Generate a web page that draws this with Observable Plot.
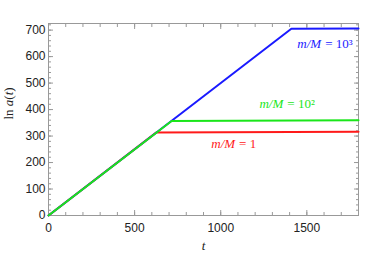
<!DOCTYPE html>
<html><head><meta charset="utf-8">
<script src="https://cdn.jsdelivr.net/npm/d3@7"></script>
<script src="https://cdn.jsdelivr.net/npm/@observablehq/plot@0.6"></script>
<style>body{margin:0;background:#fff}</style>
</head><body><div id="chart"></div>
<script>
const seriesNames = ["m/M = 1", "m/M = 10^2", "m/M = 10^3"];
const seriesColors = ["#ff1a1a", "#1a1aff", "#1ae61a"];
const redT = [0, 625, 1800];
const redV = [0, 313, 316];
const blueT = [0, 1410, 1800];
const blueV = [0, 705, 706];
const greenT = [0, 715, 1800];
const greenV = [0, 357, 360];
const xTicks = [0, 500, 1000, 1500];
const yTicks = [0, 100, 200, 300, 400, 500, 600, 700];
const xMinor = d3.range(0, 1801, 100);
const yMinor = d3.range(0, 721, 20);
const labelItalic = ["m/M", "m/M", "m/M"];
const labelRest = ["= 1", "= 10²", "= 10³"];
const labelT = [1095, 1375, 1595];
const labelV = [270, 421, 648];
const labelColors = ["#ff1a1a", "#1ae61a", "#1a1aff"];

const pts = (T, V) => T.map((t, i) => ({t, v: V[i]}));
const labels = labelItalic.map((a, i) => ({a, b: labelRest[i], t: labelT[i], v: labelV[i], c: labelColors[i]}));
const serif = "Liberation Serif, Times New Roman, serif";
const sans = "Liberation Sans, Arial, sans-serif";
const fmt = d => String(d);

const chart = Plot.plot({
  width: 382, height: 259,
  marginLeft: 48, marginRight: 24, marginTop: 23, marginBottom: 44,
  x: {domain: [0, 1800]},
  y: {domain: [0, 725]},
  style: {fontFamily: sans, color: "#222", background: "#fff"},
  marks: [
    Plot.axisX(xMinor, {anchor: "bottom", tickSize: -3, tickFormat: () => "", label: null, stroke: "#999"}),
    Plot.axisX(xMinor, {anchor: "top", tickSize: -3, tickFormat: () => "", label: null, stroke: "#999"}),
    Plot.axisY(yMinor, {anchor: "left", tickSize: -3, tickFormat: () => "", label: null, stroke: "#999"}),
    Plot.axisY(yMinor, {anchor: "right", tickSize: -3, tickFormat: () => "", label: null, stroke: "#999"}),
    Plot.axisX(xTicks, {anchor: "bottom", tickSize: -5, tickPadding: 13, tickFormat: fmt, label: null, stroke: "#999", fontSize: 12, fill: "#222"}),
    Plot.axisX(xTicks, {anchor: "top", tickSize: -5, tickFormat: () => "", label: null, stroke: "#999"}),
    Plot.axisY(yTicks, {anchor: "left", tickSize: -5, tickPadding: 8, tickFormat: fmt, label: null, stroke: "#999", fontSize: 12, fill: "#222"}),
    Plot.axisY(yTicks, {anchor: "right", tickSize: -5, tickFormat: () => "", label: null, stroke: "#999"}),
    Plot.frame({stroke: "#999"}),
    Plot.line(pts(redT, redV), {x: "t", y: "v", stroke: seriesColors[0], strokeWidth: 2}),
    Plot.line(pts(blueT, blueV), {x: "t", y: "v", stroke: seriesColors[1], strokeWidth: 2}),
    Plot.line(pts(greenT, greenV), {x: "t", y: "v", stroke: seriesColors[2], strokeWidth: 2}),
    Plot.text(labels, {x: "t", y: "v", text: "a", fill: "c", textAnchor: "end", dx: -2, fontFamily: serif, fontStyle: "italic", fontSize: 13}),
    Plot.text(labels, {x: "t", y: "v", text: "b", fill: "c", textAnchor: "start", dx: 2, fontFamily: serif, fontSize: 13}),
    Plot.text(["t"], {frameAnchor: "bottom", dy: 34, fontFamily: serif, fontStyle: "italic", fontSize: 13, fill: "#222"}),
    Plot.text(["YLABEL"], {frameAnchor: "left", dx: -40, rotate: -90, fontFamily: serif, fontSize: 13, fill: "#222"})
  ]
});
d3.select(chart).selectAll("text").each(function() {
  if (this.textContent === "YLABEL") {
    const s = d3.select(this);
    s.text(null);
    s.append("tspan").text("ln ");
    s.append("tspan").attr("font-style", "italic").text("a");
    s.append("tspan").text("(");
    s.append("tspan").attr("font-style", "italic").text("t");
    s.append("tspan").text(")");
  }
});
document.getElementById("chart").append(chart);
</script>
</body></html>
